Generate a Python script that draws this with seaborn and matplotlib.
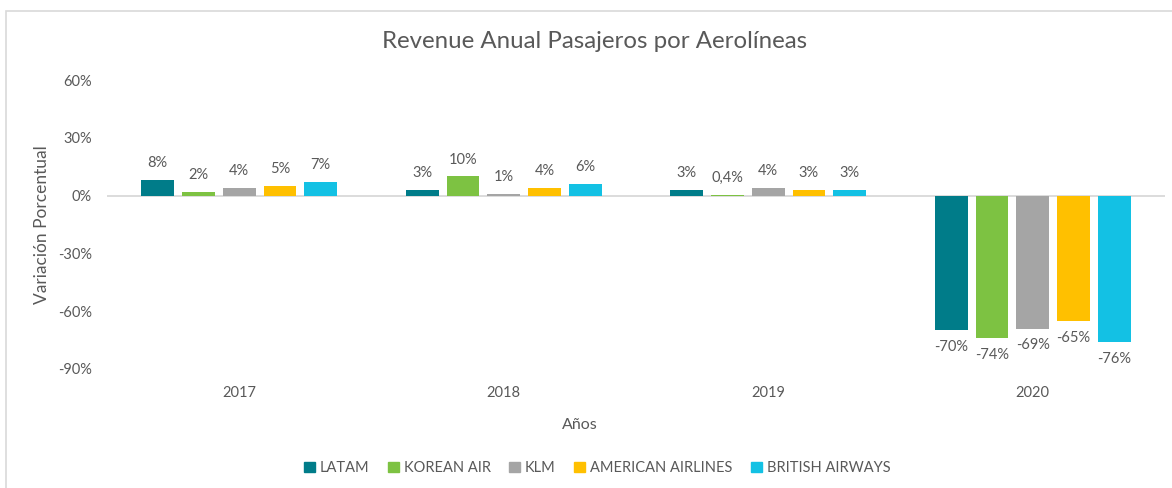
import numpy as np
import pandas as pd
import matplotlib
matplotlib.use("Agg")
import matplotlib.pyplot as plt
from matplotlib.patches import Rectangle
import seaborn as sns

# data
years = ["2017", "2018", "2019", "2020"]
airlines = ["LATAM", "KOREAN AIR", "KLM", "AMERICAN AIRLINES", "BRITISH AIRWAYS"]
latam = [8, 3, 3, -70]
korean_air = [2, 10, 0.4, -74]
klm = [4, 1, 4, -69]
american = [5, 4, 3, -65]
british = [7, 6, 3, -76]
yticks = [-90, -60, -30, 0, 30, 60]
colors = ["#007C89", "#7DC242", "#A5A5A5", "#FFC000", "#13C1E4"]

series = [latam, korean_air, klm, american, british]
df = pd.DataFrame({
    "year": np.tile(years, len(airlines)),
    "airline": np.repeat(airlines, len(years)),
    "value": np.concatenate(series),
})

sns.set_theme(style="white")
plt.rcParams["font.family"] = ["Lato", "DejaVu Sans"]
text_c = "#595959"

fig = plt.figure(figsize=(11.72, 4.88), dpi=100)
ax = fig.add_axes([107 / 1172, 1 - 369 / 488, (1165 - 107) / 1172, (369 - 80) / 488])

sns.barplot(data=df, x="year", y="value", hue="airline", order=years,
            hue_order=airlines, palette=colors, width=0.77, saturation=1,
            ax=ax, legend=False)

# shrink bars inside each slot to leave the white gaps
for cont in ax.containers:
    for p in cont.patches:
        w = p.get_width()
        p.set_x(p.get_x() + w * 0.1)
        p.set_width(w * 0.8)
        p.set_edgecolor("none")


def fmt(v):
    if abs(v) < 1:
        return f"{v:.1f}%".replace(".", ",")
    return f"{v:.0f}%"


for cont, vals in zip(ax.containers, series):
    ax.bar_label(cont, labels=[fmt(v) for v in vals], padding=7,
                 fontsize=10.5, color=text_c)

ax.axhline(0, color="#D9D9D9", lw=1.3, zorder=0)
ax.set_ylim(-90, 60)
ax.set_yticks(yticks)
ax.set_yticklabels([f"{t}%" for t in yticks])
ax.tick_params(axis="y", length=0, pad=11, labelsize=10.5, labelcolor=text_c)
ax.tick_params(axis="x", length=0, pad=12, labelsize=10.5, labelcolor=text_c)
ax.set_xlabel("")
ax.set_ylabel("")
sns.despine(ax=ax, left=True, bottom=True)

fig.text(595 / 1172, 1 - 42 / 488, "Revenue Anual Pasajeros por Aerolíneas",
         ha="center", va="center", fontsize=17.3, color=text_c)
fig.text(42 / 1172, 1 - 225 / 488, "Variación Porcentual", rotation=90,
         ha="center", va="center", fontsize=12.5, color=text_c)
fig.text(580 / 1172, 1 - 425 / 488, "Años", ha="center", va="center",
         fontsize=11.5, color=text_c)

handles = [Rectangle((0, 0), 1, 1, color=c) for c in colors]
fig.legend(handles, airlines, loc="center", bbox_to_anchor=(597 / 1172, 1 - 468 / 488),
           ncol=5, frameon=False, handlelength=0.75, handleheight=0.75,
           handletextpad=0.35, columnspacing=1.25, fontsize=10.5, labelcolor=text_c)

# light chart-area border
fig.patches.append(Rectangle((6 / 1172, -0.1), 1.2, 1.1 - 11 / 488,
                             transform=fig.transFigure, fill=False,
                             edgecolor="#D9D9D9", lw=1.2))

fig.savefig("out.png", dpi=100)
